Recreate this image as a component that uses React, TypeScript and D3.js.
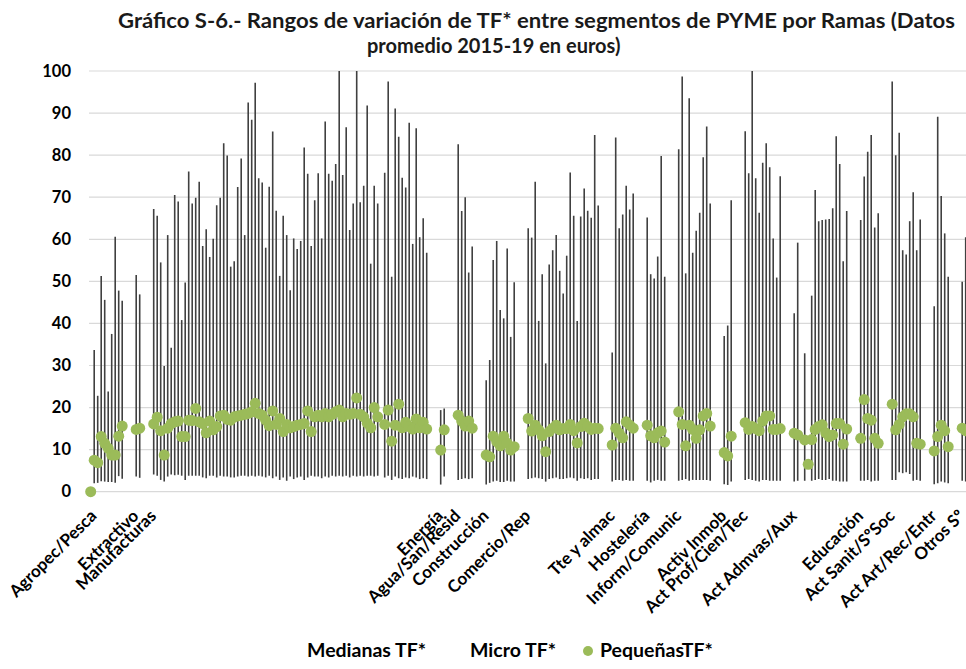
import React from 'react'
import * as d3 from 'd3'

// Sector names (category labels on the x axis)
const SECTORS = [
  'Agropec/Pesca', 'Extractivo', 'Manufacturas', 'Energía', 'Agua/San/Resid',
  'Construcción', 'Comercio/Rep', 'Tte y almac', 'Hostelería', 'Inform/Comunic',
  'Activ Inmob', 'Act Prof/Cien/Tec', 'Act Admvas/Aux', 'Educación',
  'Act Sanit/SºSoc', 'Act Art/Rec/Entr', 'Otros Sº',
]

// Value on the sector header row (only Agropec shows a point, at 0)
const HEADER_DOT: (number | null)[] = [0, null, null, null, null, null, null, null, null, null, null, null, null, null, null, null, null]

// Medianas TF* (upper end of each range), one row per sector
const MEDIANAS: (number | null)[][] = [
  [33.7, 22.8, 51.3, 45.6, 23.8, 37.5, 60.6, 47.8, 45.4],
  [51.5, 46.9],
  [67.2, 65.6, 54.5, 29.9, 61.0, 34.2, 70.5, 69.0, 40.8, 49.7, 76.1, 68.5, 69.9, 73.7, 58.4, 62.4, 55.8, 60.1, 68.1, 69.9, 82.8, 79.9, 53.5, 54.8, 72.4, 79.2, 61.0,
   92.5, 88.4, 97.2, 74.5, 73.5, 58.0, 72.5, 85.6, 66.8, 51.3, 65.6, 61.0, 47.9, 60.2, 57.7, 59.6, 81.8, 75.6, 58.4, 69.3, 75.7, 60.2, 88.0, 75.6, 73.9, 77.9, 100,
   75.3, 86.6, 62.2, 68.5, 100, 68.8, 72.7, 91.8, 54.2, 72.7, 68.5, null, 75.8, 97.5, 51.1, 91.1, 84.4, 74.6, 72.3, 87.7, 58.9, 86.4, 60.5, 65.0, 56.8],
  [19.4, 19.8],
  [82.6, 66.7, 70.0, 52.1, 58.3],
  [26.5, 31.3, 55.1, 59.6, 43.2, 41.2, 57.8, 36.8, 49.8],
  [62.6, 60.4, 73.7, 40.6, 51.7, 30.5, 54.0, 57.4, 61.0, 52.5, 47.1, 56.1, 75.9, 65.6, 40.6, 65.4, 72.1, 66.8, 65.1, 84.8, 68.0],
  [33.1, 84.2, 62.6, 65.9, 72.7, 67.1, 70.9],
  [65.2, 51.7, 50.7, 55.9, 79.8, 51.1],
  [81.4, 98.7, 51.9, 93.5, 56.8, 62.0, 66.3, 79.5, 86.8, 68.5],
  [37.0, 39.5, 69.3],
  [85.7, 75.7, 100, 74.5, 66.3, 78.2, 82.8, 77.1, 60.2, 50.9, 75.0],
  [42.4, 59.2, null, 32.9, null, 46.6, 71.7, 64.3, 64.6, 64.7, 64.8, 67.4, 84.5, 77.9, 54.8, 66.7],
  [64.6, 74.9, 80.8, 84.8, 62.8, 66.2],
  [97.5, 80.0, 85.3, 57.4, 56.4, 64.3, 71.2, 57.4, 64.7],
  [44.1, 89.1, 70.3, 61.4, 51.1],
  [49.9, 60.5],
]

// Micro TF* (lower end of each range)
const MICRO: (number | null)[][] = [
  [2.0, 2.1, 2.5, 2.4, 2.3, 2.3, 2.1, 3.7, 3.1],
  [3.6, 3.3],
  [4.1, 3.8, 2.8, 2.4, 3.6, 4.1, 3.9, 4.0, 3.8, 2.8, 3.8, 3.8, 3.8, 3.8, 3.4, 3.2, 3.8, 3.8, 3.4, 3.8, 3.6, 3.6, 3.4, 3.4, 3.6, 3.8, 3.8,
   3.6, 3.8, 3.6, 3.8, 3.6, 3.4, 3.8, 3.2, 3.6, 2.8, 3.4, 2.6, 3.6, 3.0, 3.4, 3.6, 2.8, 3.4, 3.8, 3.6, 3.6, 3.2, 3.6, 3.4, 3.8, 3.6, 3.8,
   3.6, 3.8, 3.4, 3.8, 3.6, 3.8, 3.6, 3.8, 3.8, 3.6, 3.8, null, 3.4, 3.8, 2.8, 3.6, 3.2, 3.0, 3.4, 3.2, 3.6, 3.4, 3.0, 3.2, 3.0],
  [1.7, 3.6],
  [2.8, 3.0, 3.2, 3.0, 3.2],
  [1.7, 2.1, 2.4, 2.6, 2.3, 2.3, 2.6, 2.4, 2.4],
  [3.0, 3.2, 3.4, 3.2, 3.0, 2.4, 3.0, 3.2, 3.4, 3.0, 3.0, 3.2, 3.4, 3.2, 2.6, 3.2, 3.0, 3.2, 2.8, 3.0, 3.0],
  [2.4, 2.8, 2.8, 2.6, 2.8, 2.6, 2.6],
  [2.6, 2.2, 2.6, 2.8, 2.6, 2.6],
  [2.6, 2.8, 3.0, 2.6, 2.8, 2.8, 2.8, 2.8, 2.8, 2.6],
  [1.8, 1.6, 2.4],
  [2.8, 3.0, 2.8, 2.6, 2.4, 2.8, 2.8, 2.6, 2.6, 2.6, 2.6],
  [2.4, 2.6, null, 2.6, null, 2.6, 2.8, 3.0, 2.8, 2.8, 3.0, 2.6, 2.6, 2.4, 2.4, 2.4],
  [2.6, 2.6, 2.8, 2.4, 2.6, 2.6],
  [2.8, 2.8, 4.6, 4.4, 4.6, 4.2, 2.6, 2.8, 2.6],
  [1.8, 2.0, 2.4, 2.2, 2.0],
  [2.6, 2.4],
]

// PequeñasTF* (green markers)
const PEQUENAS: (number | null)[][] = [
  [7.5, 6.9, 13.1, 11.5, 10.3, 8.7, 8.7, 13.2, 15.6],
  [14.8, 15.1],
  [16.1, 17.7, 14.5, 8.7, 15.1, 16.2, 16.6, 16.8, 13.1, 13.1, 17.0, 16.9, 19.8, 16.6, 16.2, 14.0, 16.8, 14.7, 15.5, 18.0, 18.2, 17.2, 17.0, 17.8, 18.0, 18.2, 18.4,
   18.6, 19.0, 21.0, 18.6, 18.2, 17.0, 15.7, 19.2, 16.0, 17.4, 14.3, 16.0, 15.2, 15.5, 15.8, 16.0, 16.2, 19.2, 14.3, 17.8, 18.2, 17.8, 18.6, 17.8, 18.4, 19.0, 19.4,
   17.8, 18.6, 18.4, 18.6, 22.3, 18.4, 17.8, 16.3, 15.2, 20.0, 17.8, null, 16.0, 19.4, 12.0, 15.8, 20.8, 15.2, 16.5, 15.5, 14.9, 17.3, 15.2, 16.5, 14.9],
  [9.9, 14.7],
  [18.2, 16.8, 15.6, 16.8, 15.1],
  [8.7, 8.3, 13.2, 11.9, 10.9, 13.2, 11.5, 9.9, 10.7],
  [17.4, 14.4, 15.8, 14.7, 13.3, 9.5, 14.3, 15.1, 15.8, 14.7, 15.0, 15.0, 16.0, 14.5, 11.6, 15.5, 16.3, 15.5, 14.8, 15.1, 15.0],
  [11.1, 15.1, 13.9, 12.8, 16.6, 15.8, 15.1],
  [15.8, 13.3, 12.8, 14.0, 14.4, 11.8],
  [19.0, 16.0, 10.9, 15.8, 14.8, 12.7, 14.7, 18.0, 18.6, 15.6],
  [9.3, 8.5, 13.2],
  [16.4, 14.8, 15.5, 15.0, 14.5, 16.8, 18.0, 18.0, 14.8, 14.8, 15.0],
  [13.9, 13.5, null, 12.3, 6.5, 12.4, 14.8, 15.5, 15.9, 14.0, 13.1, 13.5, 16.2, 16.2, 11.3, 14.9],
  [12.7, 21.9, 17.4, 17.0, 12.7, 11.5],
  [20.8, 14.7, 16.0, 17.8, 18.5, 18.5, 17.8, 11.5, 11.3],
  [9.7, 13.1, 15.8, 14.5, 10.7],
  [15.1, 14.5],
]

const Y_TICKS = [0, 10, 20, 30, 40, 50, 60, 70, 80, 90, 100]
const TITLE = ['Gráfico S-6.- Rangos de variación de TF* entre segmentos de PYME por Ramas (Datos', 'promedio 2015-19 en euros)']

const W = 966
const H = 669
const STEP = 3.5          // width of one category slot
const X0 = 88.95          // left edge of the category axis
const GREEN = '#9bbb59'
const FONT = 'Lato, "Open Sans", sans-serif'

type Row = { key: string; label: string | null; med: number | null; mic: number | null; peq: number | null }

// header row + sub-sectors + two empty slots, sector after sector
const rows: Row[] = []
SECTORS.forEach((name, s) => {
  rows.push({ key: `h${s}`, label: name, med: null, mic: null, peq: HEADER_DOT[s] })
  MEDIANAS[s].forEach((m, j) => rows.push({ key: `${s}-${j}`, label: null, med: m, mic: MICRO[s][j], peq: PEQUENAS[s][j] }))
  if (s < SECTORS.length - 1) {
    rows.push({ key: `b${s}a`, label: null, med: null, mic: null, peq: null })
    rows.push({ key: `b${s}b`, label: null, med: null, mic: null, peq: null })
  }
})

export default function App() {
  const x = d3.scaleBand<string>().domain(rows.map(r => r.key)).range([X0, X0 + rows.length * STEP])
  const y = d3.scaleLinear().domain([0, 100]).range([491.7, 71]).clamp(true)
  const cx = (k: string) => (x(k) ?? 0) + x.bandwidth() / 2

  const ranges = rows.map(r => {
    const vals = [r.med, r.mic, r.peq].filter((v): v is number => v != null)
    return vals.length > 1 ? { key: r.key, lo: d3.min(vals)!, hi: d3.max(vals)! } : null
  }).filter(Boolean) as { key: string; lo: number; hi: number }[]

  return (
    <svg width={W} height={H} style={{ position: 'fixed', left: 0, top: 0, background: '#fff' }} fontFamily={FONT}>
      <rect width={W} height={H} fill="#fff" />
      {/* title */}
      <text x={118} y={28} fontSize={20} fontWeight={700} fill="#1a1a1a" textLength={837} lengthAdjust="spacingAndGlyphs">{TITLE[0]}</text>
      <text x={367} y={53} fontSize={20} fontWeight={700} fill="#1a1a1a">{TITLE[1]}</text>

      {/* gridlines + y labels */}
      {Y_TICKS.map(t => (
        <g key={t}>
          <line x1={89} x2={W} y1={y(t)} y2={y(t)} stroke="#d9d9d9" strokeWidth={1.2} />
          <text x={71} y={y(t)} dy="0.35em" textAnchor="end" fontSize={16.5} fontWeight={700} fill="#000">{t}</text>
        </g>
      ))}

      {/* high-low lines */}
      {ranges.map(d => (
        <line key={d.key} x1={cx(d.key)} x2={cx(d.key)} y1={y(d.lo)} y2={y(d.hi)} stroke="#404040" strokeWidth={1.6} />
      ))}

      {/* Pequeñas markers */}
      {rows.filter(r => r.peq != null).map(r => (
        <circle key={r.key} cx={cx(r.key)} cy={y(r.peq!)} r={5.5} fill={GREEN} />
      ))}

      {/* category labels */}
      {rows.filter(r => r.label).map(r => (
        <text key={r.key} transform={`translate(${cx(r.key) + 7},${517}) rotate(-45)`} textAnchor="end"
          fontSize={17} fontWeight={700} fill="#000">{r.label}</text>
      ))}

      {/* legend */}
      <g fontSize={19.5} fontWeight={700} fill="#000">
        <text x={307} y={657}>Medianas TF*</text>
        <text x={470} y={657}>Micro TF*</text>
        <circle cx={588} cy={651} r={5} fill={GREEN} />
        <text x={600} y={657}>PequeñasTF*</text>
      </g>
    </svg>
  )
}
